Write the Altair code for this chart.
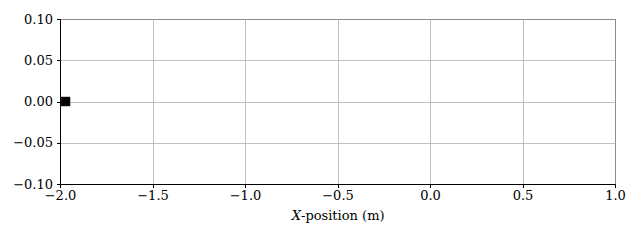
import altair as alt
import pandas as pd

xs = [-1.97]
ys = [0.0]
x_ticks = [-2.0, -1.5, -1.0, -0.5, 0.0, 0.5, 1.0]
y_ticks = [-0.10, -0.05, 0.0, 0.05, 0.10]

df = pd.DataFrame({"x": xs, "y": ys})
FONT = "DejaVu Serif"

base = alt.Chart(df)

pts = base.mark_square(size=81, color="black", opacity=1, stroke="#222", strokeWidth=0.5).encode(
    x=alt.X("x:Q", scale=alt.Scale(domain=[-2.0, 1.0], nice=False, zero=False),
            axis=alt.Axis(values=x_ticks, format=".1f", title=None, labelFont=FONT,
                          labelFontSize=13, labelColor="black", tickColor="black",
                          tickSize=3.5, labelPadding=2, domainColor="black",
                          gridColor="#b0b0b0", gridWidth=0.8, labelFlush=False)),
    y=alt.Y("y:Q", scale=alt.Scale(domain=[-0.1, 0.1], nice=False, zero=False),
            axis=alt.Axis(values=y_ticks, format=".2f", title=None, labelFont=FONT,
                          labelFontSize=13, labelColor="black", tickColor="black",
                          tickSize=3.5, labelPadding=4, domainColor="black",
                          gridColor="#b0b0b0", gridWidth=0.8, labelFlush=False)),
)

t1 = base.mark_text(font=FONT, fontSize=13, fontStyle="italic", align="right",
                    baseline="alphabetic", color="black").encode(
    x=alt.value(241), y=alt.value(201), text=alt.value("X"))
t2 = base.mark_text(font=FONT, fontSize=13, align="left",
                    baseline="alphabetic", color="black").encode(
    x=alt.value(241), y=alt.value(201), text=alt.value("-position (m)"))

chart = alt.layer(pts, t1, t2).properties(
    width=555, height=165,
    autosize=alt.AutoSizeParams(type="none"),
    padding={"left": 60, "top": 19, "right": 25, "bottom": 56},
    background="white",
).configure_view(stroke="black", strokeWidth=1).configure_axis(domainWidth=1, tickWidth=1)

chart.save("out.html", embed_options={"renderer": "svg", "actions": False})
